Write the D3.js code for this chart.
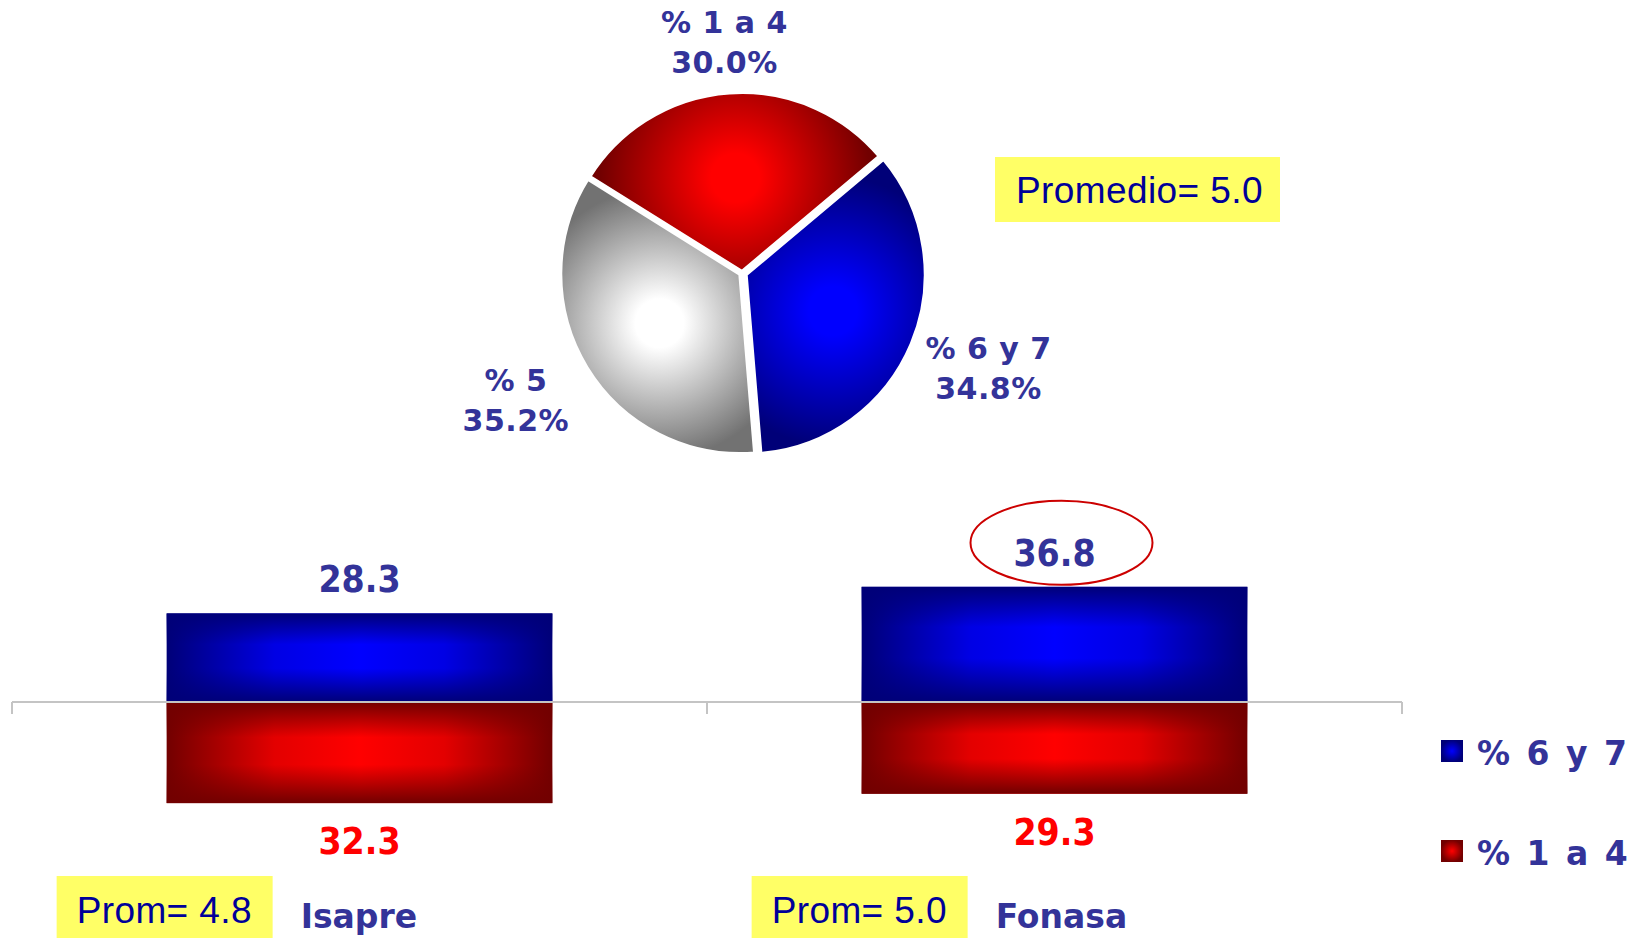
<!DOCTYPE html>
<html>
<head>
<meta charset="utf-8">
<script src="https://cdn.jsdelivr.net/npm/d3@7"></script>
<style>
  body { margin: 0; background: #fff; }
  svg { display: block; }
</style>
</head>
<body>
<div id="chart"></div>
<script>
// pie: share of grades
const pieLabels = ["% 1 a 4", "% 6 y 7", "% 5"];
const pieValues = [30.0, 34.8, 35.2];

// bars by insurer
const categories = ["Isapre", "Fonasa"];
const seriesHigh = [28.3, 36.8]; // % 6 y 7 (above axis)
const seriesLow = [32.3, 29.3];  // % 1 a 4 (below axis)
const promLabels = ["Prom= 4.8", "Prom= 5.0"];
const promedioLabel = "Promedio= 5.0";
const legendLabels = ["% 6 y 7", "% 1 a 4"];

const width = 1638, height = 938;
const labelColor = "#333399";
const boldFont = "'DejaVu Sans', Verdana, sans-serif";
const condFont = "'DejaVu Sans Condensed', 'DejaVu Sans', sans-serif";
const plainFont = "'Liberation Sans', Arial, sans-serif";

const svg = d3.select("#chart").append("svg")
  .attr("width", width)
  .attr("height", height);
const defs = svg.append("defs");

const shades = {
  red: { light: "#ff0000", dark: "#720000" },
  blue: { light: "#0000ff", dark: "#000078" },
  grey: { light: "#ffffff", dark: "#727272" }
};
const pieShade = [shades.red, shades.blue, shades.grey];

// ---------- pie ----------
const pieCenter = { x: 742, y: 273 };
const radius = 180;
const explode = [1, 4, 2];
const deg = Math.PI / 180;

const pie = d3.pie().sort(null)
  .startAngle(-58 * deg)
  .endAngle(-58 * deg + 2 * Math.PI);
const arcs = pie(pieValues);
const arc = d3.arc().innerRadius(0).outerRadius(radius);

const pieG = svg.append("g")
  .attr("transform", `translate(${pieCenter.x},${pieCenter.y})`);

arcs.forEach((a, i) => {
  a.mid = (a.startAngle + a.endAngle) / 2;
  const c = d3.arc().innerRadius(0).outerRadius(radius * 1.05).centroid(a);
  const g = defs.append("radialGradient")
    .attr("id", "pg" + i)
    .attr("gradientUnits", "userSpaceOnUse")
    .attr("cx", c[0]).attr("cy", c[1])
    .attr("fx", c[0]).attr("fy", c[1])
    .attr("r", 135);
  g.append("stop").attr("offset", 0).attr("stop-color", pieShade[i].light);
  g.append("stop").attr("offset", 0.18).attr("stop-color", pieShade[i].light);
  g.append("stop").attr("offset", 1).attr("stop-color", pieShade[i].dark);
});

pieG.selectAll("path.slice")
  .data(arcs)
  .join("path")
  .attr("class", "slice")
  .attr("transform", (d, i) =>
    `translate(${Math.sin(d.mid) * explode[i]},${-Math.cos(d.mid) * explode[i]})`)
  .attr("d", arc)
  .attr("fill", (d, i) => `url(#pg${i})`)
  .attr("stroke", "#fff")
  .attr("stroke-width", 4)
  .attr("stroke-linejoin", "round");

// pie labels (name + percent), placed on an ellipse around the pie
const labelRx = 266, labelRy = 236;
const pl = pieG.selectAll("g.plabel")
  .data(arcs)
  .join("g")
  .attr("class", "plabel")
  .attr("transform", d =>
    `translate(${Math.sin(d.mid) * labelRx + 1},${-Math.cos(d.mid) * labelRy + 4})`)
  .attr("text-anchor", "middle")
  .style("font-family", boldFont)
  .style("font-weight", "bold")
  .style("font-size", "30px")
  .style("letter-spacing", "0.5px")
  .attr("fill", labelColor);
pl.append("text").attr("y", -9).text((d, i) => pieLabels[i]);
pl.append("text").attr("y", 31).text(d => d.value.toFixed(1) + "%");

// promedio box
const promG = svg.append("g").attr("transform", "translate(995,157)");
promG.append("rect").attr("width", 285).attr("height", 65).attr("fill", "#ffff66");
promG.append("text")
  .attr("x", 21).attr("y", 46)
  .style("font-family", plainFont)
  .style("font-size", "37px")
  .style("letter-spacing", "0.4px")
  .attr("fill", "#000099")
  .text(promedioLabel);

// ---------- bars ----------
const x = d3.scaleBand()
  .domain(categories)
  .range([12, 1402])
  .paddingInner(0.445)
  .paddingOuter(0.2225);
const y = d3.scaleLinear()
  .domain([-38, 38])
  .range([702 + 38 * 3.13, 702 - 38 * 3.13]);

// rectangular "path" gradient made of a horizontal gradient and a vertical overlay
function barGradients(name, s) {
  const mix = d3.interpolateRgb(s.dark, s.light)(0.8);
  const h = defs.append("linearGradient").attr("id", name + "H")
    .attr("x1", 0).attr("x2", 1).attr("y1", 0).attr("y2", 0);
  [[0, s.dark], [0.28, mix], [0.5, s.light], [0.72, mix], [1, s.dark]]
    .forEach(([o, c]) => h.append("stop").attr("offset", o).attr("stop-color", c));
  const v = defs.append("linearGradient").attr("id", name + "V")
    .attr("x1", 0).attr("x2", 0).attr("y1", 0).attr("y2", 1);
  [[0, 1], [0.35, 0], [0.62, 0], [1, 1]]
    .forEach(([o, op]) => v.append("stop").attr("offset", o)
      .attr("stop-color", s.dark).attr("stop-opacity", op));
  const r = defs.append("radialGradient").attr("id", name + "L");
  r.append("stop").attr("offset", 0).attr("stop-color", s.light);
  r.append("stop").attr("offset", 1).attr("stop-color", s.dark);
}
barGradients("blue", shades.blue);
barGradients("red", shades.red);

const barG = svg.append("g");
const bars = categories.map((c, i) => ({ cat: c, high: seriesHigh[i], low: seriesLow[i], prom: promLabels[i] }));

const cat = barG.selectAll("g.cat").data(bars).join("g").attr("class", "cat");

["H", "V"].forEach(layer => {
  cat.append("rect")
    .attr("x", d => x(d.cat))
    .attr("y", d => y(d.high))
    .attr("width", x.bandwidth())
    .attr("height", d => y(0) - y(d.high))
    .attr("fill", `url(#blue${layer})`);
  cat.append("rect")
    .attr("x", d => x(d.cat))
    .attr("y", y(0))
    .attr("width", x.bandwidth())
    .attr("height", d => y(-d.low) - y(0))
    .attr("fill", `url(#red${layer})`);
});

// axis line with ticks at band edges
const axisY = y(0);
const tickXs = [x.range()[0], ...categories.map(c => x(c) - x.step() * x.paddingOuter() + x.step())];
barG.append("line")
  .attr("x1", x.range()[0]).attr("x2", x.range()[1])
  .attr("y1", axisY).attr("y2", axisY)
  .attr("stroke", "#c4c4c4").attr("stroke-width", 2);
barG.selectAll("line.tick").data(tickXs).join("line")
  .attr("class", "tick")
  .attr("x1", d => d).attr("x2", d => d)
  .attr("y1", axisY).attr("y2", axisY + 12)
  .attr("stroke", "#c4c4c4").attr("stroke-width", 2);

// value labels
cat.append("text")
  .attr("x", d => x(d.cat) + x.bandwidth() / 2)
  .attr("y", d => y(d.high) - 21)
  .attr("text-anchor", "middle")
  .style("font-family", condFont)
  .style("font-stretch", "condensed")
  .style("font-weight", "bold")
  .style("font-size", "37px")
  .attr("fill", labelColor)
  .text(d => d.high.toFixed(1));
cat.append("text")
  .attr("x", d => x(d.cat) + x.bandwidth() / 2)
  .attr("y", d => y(-d.low) + 51)
  .attr("text-anchor", "middle")
  .style("font-family", condFont)
  .style("font-stretch", "condensed")
  .style("font-weight", "bold")
  .style("font-size", "37px")
  .attr("fill", "#ff0000")
  .text(d => d.low.toFixed(1));

// highlight the largest "% 6 y 7" value
const maxBar = bars.reduce((a, b) => (b.high > a.high ? b : a));
barG.append("ellipse")
  .attr("cx", x(maxBar.cat) + x.bandwidth() / 2 + 7)
  .attr("cy", y(maxBar.high) - 44)
  .attr("rx", 91).attr("ry", 42)
  .attr("fill", "none")
  .attr("stroke", "#cc0000")
  .attr("stroke-width", 2);

// average boxes and category names
cat.append("rect")
  .attr("x", d => x(d.cat) - 110)
  .attr("y", 876)
  .attr("width", 216).attr("height", 64)
  .attr("fill", "#ffff66");
cat.append("text")
  .attr("x", d => x(d.cat) - 90)
  .attr("y", 923)
  .style("font-family", plainFont)
  .style("font-size", "37px")
  .style("letter-spacing", "0.4px")
  .attr("fill", "#000099")
  .text(d => d.prom);
cat.append("text")
  .attr("x", d => x(d.cat) + 134)
  .attr("y", 928)
  .style("font-family", boldFont)
  .style("font-weight", "bold")
  .style("font-size", "33px")
  .attr("fill", labelColor)
  .text(d => d.cat);

// ---------- legend ----------
const legend = svg.append("g").attr("transform", "translate(1441,740)");
const legendFill = ["blueL", "redL"];
const li = legend.selectAll("g").data(legendLabels).join("g")
  .attr("transform", (d, i) => `translate(0,${i * 100})`);
li.append("rect")
  .attr("width", 22).attr("height", 22)
  .attr("fill", (d, i) => `url(#${legendFill[i]})`);
li.append("text")
  .attr("x", 36).attr("y", 25)
  .style("font-family", boldFont)
  .style("font-weight", "bold")
  .style("font-size", "33px")
  .style("letter-spacing", "2.5px")
  .attr("fill", labelColor)
  .text(d => d);
</script>
</body>
</html>
